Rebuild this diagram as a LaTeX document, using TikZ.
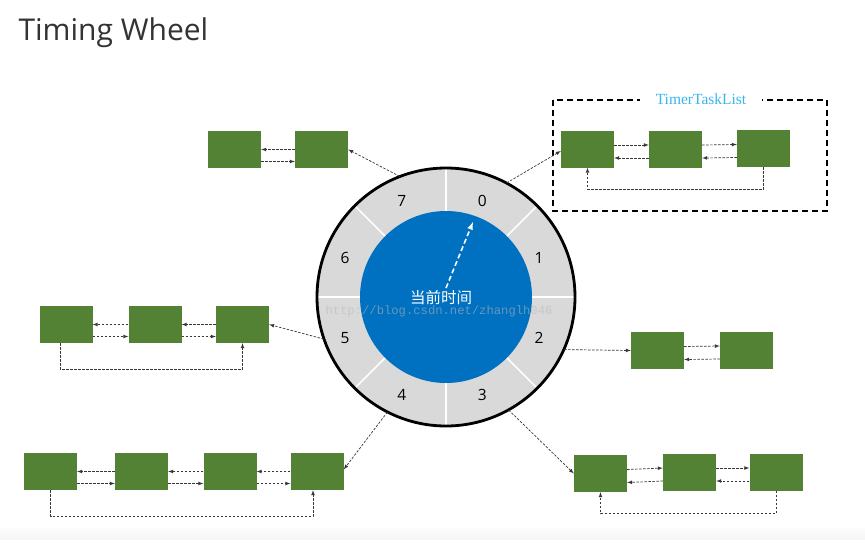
\documentclass[tikz,border=0pt]{standalone}
\usepackage{fontspec}
\setmainfont{Open Sans}
\newfontfamily\cjk{Noto Sans CJK SC}
\newfontfamily\listfont{Liberation Serif}
\newfontfamily\stampfont{Liberation Mono}

\definecolor{taskgreen}{RGB}{84,130,53}
\definecolor{nowblue}{RGB}{0,112,192}
\definecolor{slotgray}{RGB}{217,217,217}
\definecolor{listblue}{RGB}{56,182,238}
\definecolor{linkgray}{RGB}{55,55,55}
\definecolor{titlegray}{RGB}{51,51,51}
\definecolor{stampgray}{RGB}{185,185,185}

\begin{document}
\begin{tikzpicture}[> = latex, x = 1pt, y = -1pt,
	task/.style = {fill = taskgreen, minimum width = 53pt, minimum height = 37pt, inner sep = 0pt},
	link/.style = {->, draw = linkgray, line width = 0.7pt, dash pattern = on 2.5pt off 1.5pt}]

	\useasboundingbox [fill = white] (0, 0) rectangle (865, 550);
	\shade [top color = white, bottom color = black!4] (0, 525) rectangle (865, 539);

	\node (title) [anchor = base west, text = titlegray, font = \fontsize{30}{36}\selectfont] at (15, 40) {Timing Wheel};

	% The wheel
	
	\node (wheel) [circle, fill = slotgray, minimum size = 258pt, inner sep = 0pt] at (446, 297) {};
	\foreach \a in {0, 45, ..., 315}
		\draw [white, line width = 1.6pt] (wheel.center) -- ++(\a : 128pt);
	\draw [line width = 2.8pt] (wheel.center) circle [radius = 129pt];
	
	\node (now) [circle, fill = nowblue, minimum size = 172pt, inner sep = 0pt] at (wheel.center) {};
	
	\coordinate (slot-center) at (442, 298);
	\foreach \n in {0, ..., 7}
		\path (slot-center) ++({67.5 - 45 * \n} : 105pt) node (slot-\n) [font = \fontsize{15.5}{18}\selectfont] {\n};
	
	\node (stamp) [inner sep = 0pt, text = stampgray, opacity = 0.55, font = \stampfont\fontsize{12.2}{14}\selectfont] at (439, 311) {http://blog.csdn.net/zhanglh046};
	\node (now-label) [inner sep = 0pt, text = white, font = \cjk\fontsize{15.5}{18}\selectfont] at (441, 298) {当前时间};
	
	\coordinate (hand-tip) at (473, 222);
	\draw [->, white, line width = 1.6pt, dash pattern = on 5pt off 3pt] ([yshift = 9pt] now.center) -- (hand-tip);

	% Task lists hanging from the slots
	
	\node [task] (s7-1) at (234.5, 149.5) {};
	\node [task] (s7-2) at (321.5, 149.5) {};
	
	\node [task] (s0-1) at (587.5, 149) {};
	\node [task] (s0-2) at (675.5, 149) {};
	\node [task] (s0-3) at (763.5, 148.5) {};
	
	\node [task] (s2-1) at (657.5, 350.5) {};
	\node [task] (s2-2) at (746.5, 350) {};
	
	\node [task] (s3-1) at (600.5, 473.5) {};
	\node [task] (s3-2) at (689.5, 472) {};
	\node [task] (s3-3) at (776, 472) {};
	
	\node [task] (s4-1) at (50.5, 471.5) {};
	\node [task] (s4-2) at (141.5, 471.5) {};
	\node [task] (s4-3) at (230, 471.5) {};
	\node [task] (s4-4) at (317, 471.5) {};
	
	\node [task] (s5-1) at (66, 324.5) {};
	\node [task] (s5-2) at (155, 324.5) {};
	\node [task] (s5-3) at (242.5, 324.5) {};
	
	% TimerTaskList frame
	
	\draw [line width = 1.4pt, dash pattern = on 6pt off 4pt] (553, 100) rectangle (827, 211);
	\node (list-title) [fill = white, inner xsep = 16pt, inner ysep = 1pt, text = listblue, font = \listfont\fontsize{15.5}{18}\selectfont] at (701, 99) {TimerTaskList};

	% Links
	
	\foreach \a/\b in {s7-1/s7-2, s5-1/s5-2, s5-2/s5-3, s4-1/s4-2, s4-2/s4-3, s4-3/s4-4} {
		\draw [link] ([yshift = 0pt] \b.west) -- ([yshift = 0pt] \a.east);
		\draw [link] ([yshift = -12pt] \a.east) -- ([yshift = -12pt] \b.west);
	}
	\foreach \a/\b in {s0-1/s0-2, s0-2/s0-3, s2-1/s2-2, s3-1/s3-2, s3-2/s3-3} {
		\draw [link] ([yshift = 4pt] \a.east) -- ([yshift = 4pt] \b.west);
		\draw [link] ([yshift = -9pt] \b.west) -- ([yshift = -9pt] \a.east);
	}
	
	\draw [link] (s0-3.south) -- ++(0, 22) -| (s0-1.south);
	\draw [link] (s3-3.south) -- ++(0, 23) -| (s3-1.south);
	\draw [link] ([xshift = -6pt] s5-1.south) -- ++(0, 26) -| (s5-3.south);
	\draw [link] (s4-1.south) -- ++(0, 26) -| ([xshift = -4pt] s4-4.south);
	
	\begin{scope}[link]
		\draw (wheel.111) -- (s7-2.east);
		\draw (wheel.62) -- ([yshift = -2pt] s0-1.west);
		\draw (wheel.-24) -- (s2-1.west);
		\draw (wheel.-61) -- (s3-1.west);
		\draw (wheel.243) -- ([yshift = 2pt] s4-4.east);
		\draw (wheel.199) -- (s5-3.east);
	\end{scope}

\end{tikzpicture}
\end{document}
